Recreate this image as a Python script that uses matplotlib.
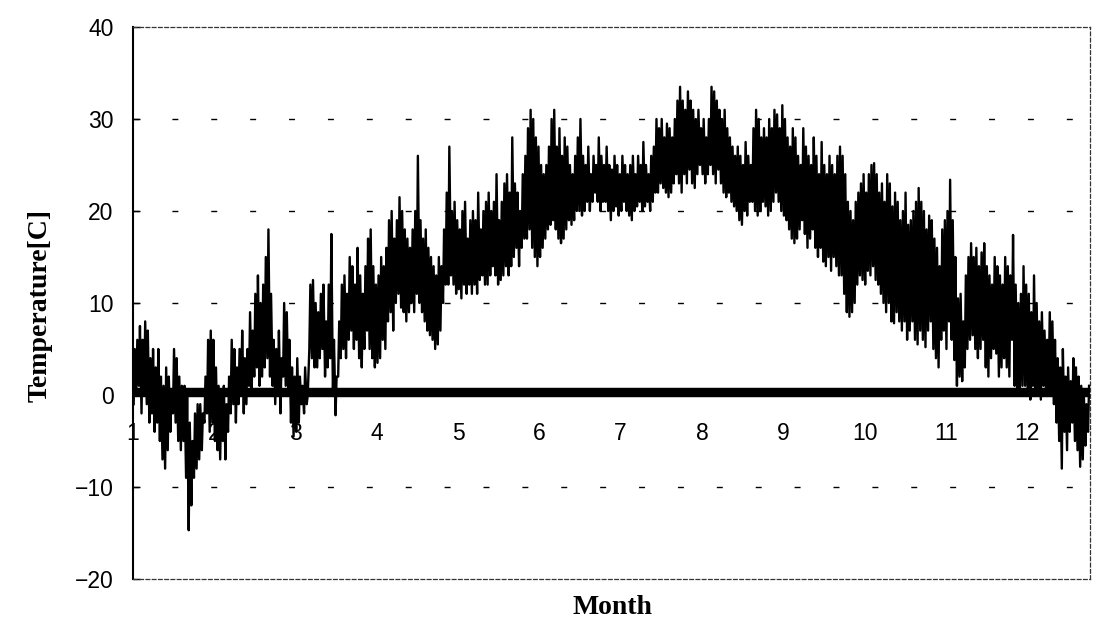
import matplotlib.pyplot as plt
import numpy as np

# daily max / min temperature [C], day 0 = 1 Jan
t_max = [
    5, 6, 7.5, 6, 8, 7, 4, 5, 3, 5,
    2, 1, 3, 2, 0, 5, 4, 2, 1, 1,
    0, -3, -5, -2, -1, -1, -2, 2, 6, 7,
    6, 3, 1, 0, 1, -1, 2, 6, 5, 3,
    5, 7, 4, 5, 9, 7, 11, 13, 10, 12,
    15, 18, 11, 6, 5, 7, 4, 10, 9, 6,
    3, 2, 4, 2, 1, 3, 0, 12, 12.5, 10,
    9, 11, 12, 8, 12, 17.5, 6, 2, 8, 12,
    13, 11, 15, 14, 12, 16, 13, 11, 14, 17,
    18, 14, 12, 13, 15, 14, 16, 19, 20, 17,
    19, 21.5, 20, 18, 17, 16, 18, 20, 26, 19,
    17, 18, 16, 15, 14, 13, 15, 14, 18, 22,
    27, 20, 21, 19, 18, 20, 21, 17, 19, 20,
    19, 22, 18, 20, 21, 22, 20, 21, 24, 19,
    21, 23, 24, 22, 28, 23, 22, 20, 24, 26,
    29, 31, 30, 28, 27, 25, 24, 25, 27, 30,
    31, 27, 29, 26, 28, 27, 25, 24, 26, 28,
    30, 26, 25, 27, 24, 26, 25, 28, 26, 25,
    27, 25, 24.5, 26, 25, 24, 26, 25, 24, 25,
    26, 24, 26, 25, 27.5, 25, 24, 26, 27, 30,
    29, 30, 28, 29.5, 29, 28, 30, 32, 33.5, 32,
    31, 33, 32, 31, 30, 31, 29, 30, 28, 30,
    33.5, 33, 32, 31, 30, 31, 29, 28, 27, 26,
    27, 26, 25, 27.5, 26, 25, 29, 31, 30, 28,
    29, 28, 30, 29, 31, 30.5, 29, 31.5, 30, 28,
    27, 29, 28, 26, 25, 29, 27, 26, 25, 28,
    26, 24, 27.5, 25, 24, 26, 25, 24, 26, 27,
    26, 24, 21, 20, 19, 21, 22, 23, 24, 22,
    24, 25, 25.2, 24, 22, 23, 21, 24, 23, 20.5,
    22, 21, 19, 20, 22, 18.5, 19, 20, 21, 22.5,
    21, 20, 18, 19.5, 19, 17, 16, 14, 18, 19,
    20, 23.4, 19, 15, 10.5, 11, 8, 13, 15, 16.5,
    15, 16, 14, 15.5, 16.5, 14, 13, 12, 15, 14,
    13, 12, 15, 14, 13, 17.4, 12, 10, 11, 14,
    12, 11, 9, 13, 10, 8, 9, 7, 6, 9,
    8, 6, 4, 3, 5, 2, 3, 1.5, 4, 3,
    2, 1, 0, -1, 1,
]
t_min = [
    -1, 0, 1, -2, 0, -1, -3, -2, -4, -3,
    -5, -7, -8, -6, -4, -2, -3, -5, -6, -5,
    -9, -14.7, -12, -9, -8, -7, -6, -3, -2, -4,
    -3, -5, -6, -7, -5, -7, -4, -2, -1, -3,
    -1, 0, -2, -1, 1, 0, 2, 3, 1, 2,
    3, 4, 2, 1, -1, 0, -2, 2, 1, 0,
    -3, -4.5, -4, -3, -1, -2, -1, 5, 4, 3,
    3, 4, 5, 2, 3, 4, 0, -2.2, 2, 4,
    5, 4, 6, 7, 5, 6, 4, 3, 5, 7,
    5, 4, 3, 3.5, 4, 6, 5, 8, 9, 7,
    10, 11, 9.5, 9, 8, 9, 10, 9, 11, 10,
    9, 8, 7, 6.5, 6, 5, 5.5, 7, 10, 12,
    12, 13, 12, 11, 11.5, 10.5, 12, 11, 12, 11,
    12, 11, 12.5, 13, 12, 12, 13, 14, 13, 12,
    12.5, 13, 14, 13, 14, 15, 16, 14, 16, 17,
    17, 18, 16, 15, 14, 15, 16, 17, 18, 18.5,
    19, 18, 17, 16.5, 17, 18, 19, 18.5, 19, 20,
    20, 19.5, 20, 21, 20, 21, 22, 21, 20, 21,
    21, 20, 19, 20, 20.5, 19.5, 20, 21, 20, 19.5,
    19, 20, 20.5, 21, 20, 20.5, 21, 20, 21, 22,
    22, 23, 22.5, 22, 21.5, 22, 23, 24, 23, 22,
    24, 23, 24.5, 23, 22.5, 24, 25, 24, 23, 24,
    25, 24, 23, 24.5, 23, 22, 21.5, 22, 21, 20.5,
    20, 19, 18.5, 20, 19.5, 21, 21, 20, 19.5, 20,
    21, 20.5, 19.5, 20, 21, 22, 21, 20, 19.5, 19,
    18, 17, 16.5, 17, 18, 19, 17.5, 16, 17, 18,
    16, 15, 16, 14.5, 14, 15, 13.5, 15, 14, 13,
    13, 11, 9, 8.5, 9, 10, 12, 13, 12.5, 12,
    13.5, 13, 14, 12.5, 12, 11, 10, 9, 10, 8,
    7.8, 9, 8, 7, 8, 6, 7, 8, 6, 5.5,
    7, 6, 5.2, 7, 8, 5, 4, 3, 6, 7,
    5, 8, 6, 3.8, 1, 2, 1.5, 3, 5, 6,
    6.5, 5, 4, 5, 6, 3, 2, 4, 5, 4.5,
    2, 3, 4, 3, 2, 6, 1, 0, 0.5, 1,
    1, 0, -0.5, 1, 0, 0.5, -0.5, 1, 0, 0.5,
    0, -1, -3, -5, -8, -4, -6, -4, -3, -5,
    -6, -7.8, -7, -5.5, -4,
]
flat_level = 0.3          # the thick near-zero trace
month_labels = ['1', '2', '3', '4', '5', '6', '7', '8', '9', '10', '11', '12']
grid_levels = [-10, 10, 20, 30]

W, H = 1099, 623
fig = plt.figure(figsize=(W / 100, H / 100), dpi=100)
ax = fig.add_axes([133 / W, 44 / H, 957 / W, 552 / H])

days = np.arange(len(t_max))
x = np.column_stack([days + 0.25, days + 0.65]).ravel()
y = np.column_stack([t_min, t_max]).ravel()

for g in grid_levels:
    ax.axhline(g, color='black', lw=1.0, ls=(0, (4.3, 23.7)), zorder=1)

for i, lab in enumerate(month_labels):
    ax.text(i * 31, -4.2, lab, ha='center', va='center', fontsize=16.5,
            family='Liberation Sans', zorder=2)

ax.axhline(flat_level, color='black', lw=6.8, zorder=3)
ax.plot(x, y, color='black', lw=1.7, zorder=4)

ax.set_xlim(0, 365)
ax.set_ylim(-20, 40)
ax.set_yticks(range(-20, 41, 10))
ax.set_xticks([])
ax.tick_params(axis='y', direction='in', length=5, width=1, pad=14,
               labelsize=16.5)
for t in ax.get_yticklabels():
    t.set_family('Liberation Sans')

ax.spines['left'].set_linewidth(1.5)
for s in ['top', 'right', 'bottom']:
    ax.spines[s].set_linestyle((0, (3, 2)))
    ax.spines[s].set_linewidth(0.9)
    ax.spines[s].set_color('#333333')

fig.text(40 / W, 1 - 305 / H, 'Temperature[C]', rotation=90, ha='center',
         va='center', fontsize=20, fontweight='bold', family='Liberation Serif')
fig.text(612 / W, 1 - 607 / H, 'Month', ha='center', va='center',
         fontsize=20, fontweight='bold', family='Liberation Serif')

fig.savefig('out.png', dpi=100)
